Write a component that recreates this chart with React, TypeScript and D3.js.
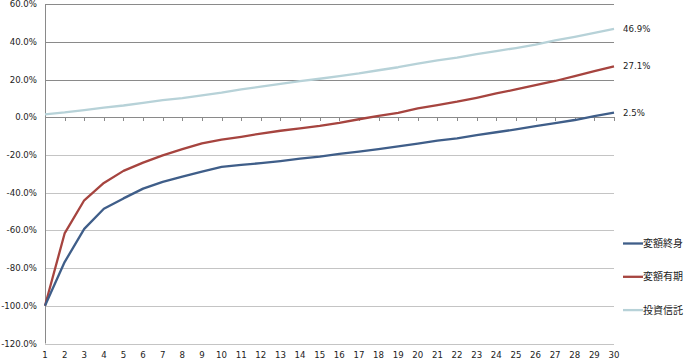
import React from "react";
import * as d3 from "d3";

const W = 694;
const H = 364;

const years = [1, 2, 3, 4, 5, 6, 7, 8, 9, 10, 11, 12, 13, 14, 15, 16, 17, 18, 19, 20, 21, 22, 23, 24, 25, 26, 27, 28, 29, 30];
const yTicks = [60, 40, 20, 0, -20, -40, -60, -80, -100, -120];

// 変額終身
const henGakuShushin = [-100, -76.8, -59.2, -48.5, -43.0, -37.8, -34.2, -31.4, -28.8, -26.3, -25.2, -24.3, -23.2, -21.9, -20.8, -19.4, -18.2, -16.8, -15.4, -13.9, -12.4, -11.1, -9.4, -7.9, -6.4, -4.7, -3.1, -1.4, 0.6, 2.5];
// 変額有期
const henGakuYuki = [-100, -61.6, -44.0, -34.8, -28.4, -24.0, -20.2, -16.9, -13.8, -11.8, -10.3, -8.6, -7.1, -5.8, -4.5, -2.9, -1.0, 0.8, 2.4, 4.8, 6.5, 8.3, 10.4, 12.7, 14.8, 17.1, 19.3, 21.9, 24.5, 27.1];
// 投資信託
const toshiShintaku = [1.6, 2.6, 3.9, 5.2, 6.3, 7.7, 9.1, 10.2, 11.7, 13.1, 14.8, 16.3, 17.8, 19.2, 20.5, 21.9, 23.3, 25.0, 26.6, 28.5, 30.2, 31.7, 33.5, 35.2, 36.8, 38.6, 40.8, 42.7, 44.8, 46.9];

const series = [
  { name: "変額終身", values: henGakuShushin, color: "#3f5e89" },
  { name: "変額有期", values: henGakuYuki, color: "#a6443f" },
  { name: "投資信託", values: toshiShintaku, color: "#b7d2d8" },
];

const font = "'DejaVu Sans', Verdana, sans-serif";

export default function App() {
  const x = d3.scaleLinear().domain([1, 30]).range([45, 614]);
  const y = d3.scaleLinear().domain([-120, 60]).range([343.5, 4.3]);

  const line = d3
    .line<number>()
    .x((_, i) => x(years[i]))
    .y((d) => y(d));

  const fmt = (v: number) => v.toFixed(1) + "%";

  return (
    <svg
      width={W}
      height={H}
      style={{ position: "absolute", left: 0, top: 0, background: "#fff" }}
    >
      {/* gridlines */}
      {yTicks.map((t) => (
        <line
          key={"g" + t}
          x1={x(1)}
          x2={x(30)}
          y1={Math.round(y(t)) + 0.5}
          y2={Math.round(y(t)) + 0.5}
          stroke={t > 0 ? "#8a8a8a" : "#c4c4c4"}
          strokeWidth={1}
        />
      ))}
      {/* left axis */}
      <line x1={45.5} x2={45.5} y1={y(60)} y2={y(-120)} stroke="#8a8a8a" />
      {/* category axis at 0 */}
      <line
        x1={x(1)}
        x2={x(30)}
        y1={Math.round(y(0)) + 0.5}
        y2={Math.round(y(0)) + 0.5}
        stroke="#8a8a8a"
      />
      {years.map((yr) => (
        <line
          key={"t" + yr}
          x1={Math.round(x(yr)) + 0.5}
          x2={Math.round(x(yr)) + 0.5}
          y1={Math.round(y(0))}
          y2={Math.round(y(0)) + 4}
          stroke="#8a8a8a"
        />
      ))}
      {/* y labels */}
      {yTicks.map((t) => (
        <text
          key={"l" + t}
          x={37}
          y={y(t)}
          dy="0.35em"
          textAnchor="end"
          fontFamily={font}
          fontSize={8.6}
          fill="#222"
        >
          {fmt(t)}
        </text>
      ))}
      {/* x labels */}
      {years.map((yr) => (
        <text
          key={"x" + yr}
          x={x(yr)}
          y={358}
          textAnchor="middle"
          fontFamily={font}
          fontSize={8.6}
          fill="#222"
        >
          {yr}
        </text>
      ))}
      {/* lines */}
      {series
        .slice()
        .reverse()
        .map((s) => (
          <path
            key={s.name}
            d={line(s.values) || ""}
            fill="none"
            stroke={s.color}
            strokeWidth={2.3}
            strokeLinejoin="round"
          />
        ))}
      {/* end labels */}
      {series.map((s) => (
        <text
          key={"e" + s.name}
          x={623}
          y={y(s.values[s.values.length - 1])}
          dy="0.35em"
          fontFamily={font}
          fontSize={8.6}
          fill="#222"
        >
          {fmt(s.values[s.values.length - 1])}
        </text>
      ))}
      {/* legend */}
      {series.map((s, i) => {
        const ly = 243.5 + i * 33.3;
        return (
          <g key={"lg" + s.name}>
            <line x1={623} x2={643} y1={ly} y2={ly} stroke={s.color} strokeWidth={2.3} />
            <text
              x={643}
              y={ly}
              dy="0.35em"
              fontFamily="'Noto Sans CJK JP', sans-serif"
              fontSize={10}
              fill="#222"
            >
              {s.name}
            </text>
          </g>
        );
      })}
    </svg>
  );
}
